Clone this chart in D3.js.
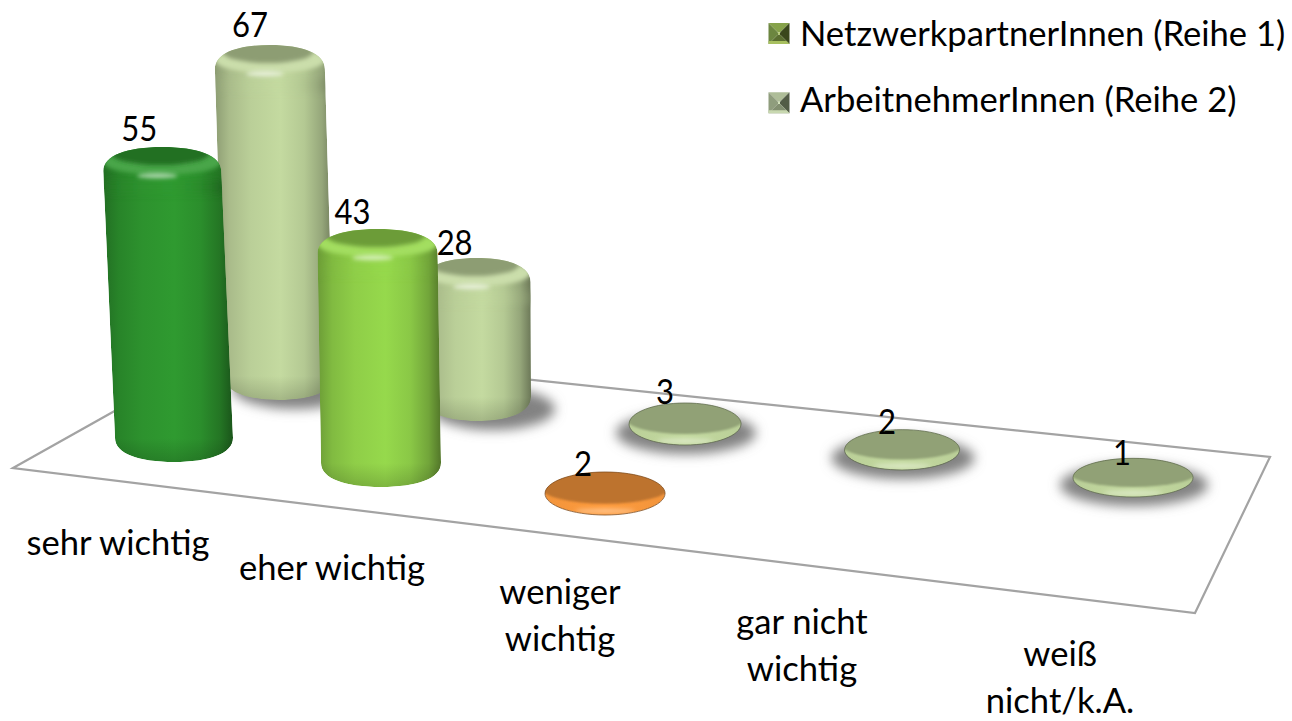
<!DOCTYPE html>
<html><head><meta charset="utf-8">
<script src="https://cdn.jsdelivr.net/npm/d3@7"></script>
<style>html,body{margin:0;padding:0;background:#fff}svg{display:block}text{font-family:Lato,"Noto Sans",sans-serif;fill:#000}</style>
</head><body><svg id="c" width="1292" height="721"></svg>
<script>
const categories = [["sehr wichtig"],["eher wichtig"],["weniger","wichtig"],["gar nicht","wichtig"],["weiß","nicht/k.A."]];
const seriesNames = ["NetzwerkpartnerInnen (Reihe 1)","ArbeitnehmerInnen (Reihe 2)"];
const series1Values = [55,43,2,null,null];
const series2Values = [67,28,3,2,1];
const series1Colors = ["#2f9a30","#96d94c","#ff9c3e"];
const series2Color = "#c4daa0";

const idx=[0,1,2,3,4];
// Perspective scales of the two rows (the plot is a tilted 3-D floor, so spacing is not uniform)
const xCat = {
  front:d3.scaleLinear().domain([0,1,2]).range([174,381,605]),
  back:d3.scaleLinear().domain(idx).range([279,477,685,902,1133])
};
const yBase = {
  front:d3.scaleLinear().domain([0,1,2]).range([462,487,515]),
  back:d3.scaleLinear().domain(idx).range([400,421,445,470,497])
};
const widthCat = {
  front:d3.scaleLinear().domain([0,1,2]).range([118,120,120]),
  back:d3.scaleLinear().domain(idx).range([110,108,112,115,120])
};
const heightScale = {
  front:d3.scaleLinear().domain([0,2,43,55]).range([41,43,258,315]),
  back:d3.scaleLinear().domain([0,3,28,67]).range([37,42,163,355])
};
const labelDx = {
  front:d3.scaleLinear().domain([0,1,2]).range([-23,-25,-22]),
  back:d3.scaleLinear().domain(idx).range([-20,-22,-20,-15,-11])
};
const labelDy = d3.scaleLinear().domain([1,3,28,67]).range([5,11,15,20]);
const xLabel = d3.scaleLinear().domain(idx).range([118,332,560,802,1060]);
const yLabel = d3.scaleLinear().domain(idx).range([555,580,604,634,666]);

const FS=34.6;
const svg=d3.select("#c"), defs=svg.append("defs");
const mix=(c,k)=>d3.interpolateRgb("#000",c)(k);
const lighten=(c,k)=>d3.interpolateRgb(c,"#fff")(k);

const blur=(id,s)=>defs.append("filter").attr("id",id).attr("x","-50%").attr("y","-80%").attr("width","200%").attr("height","260%")
  .append("feGaussianBlur").attr("stdDeviation",s);
blur("b1",1.2); blur("b2",2); blur("b3",3.5); blur("b6",6);

// floor
const floor=[[13,468],[227,348],[1270,457],[1195,613]];
svg.append("path").attr("d",d3.line()(floor)+"Z").attr("fill","#fff").attr("stroke","#a3a3a3").attr("stroke-width",2.2);

const marks=[];
series2Values.forEach((v,i)=>{if(v!=null)marks.push({row:"back",i,v,color:series2Color,shadow:true})});
series1Values.forEach((v,i)=>{if(v!=null)marks.push({row:"front",i,v,color:series1Colors[i],shadow:false})});
marks.forEach((m,k)=>{
  m.k=k;
  m.w=widthCat[m.row](m.i);
  m.cx=xCat[m.row](m.i);
  m.bottom=yBase[m.row](m.i);
  m.total=heightScale[m.row](m.v);
  m.top=m.bottom-m.total;
  m.cxT=m.cx+(m.cx-500)*(m.total-38)*0.00013;
  m.disc=m.total<60;
});
const outline=m=>{
  const r=m.w/2,c=Math.min(24,m.total/2),t=m.top,b=m.bottom,a=m.cxT,d=m.cx;
  const e=m.disc?c*.448:c*.35, q=m.disc?.552:.6;
  return `M${a-r},${t+c}C${a-r},${t+e} ${a-r*q},${t} ${a},${t}C${a+r*q},${t} ${a+r},${t+e} ${a+r},${t+c}`+
   `L${d+r},${b-c}C${d+r},${b-e} ${d+r*q},${b} ${d},${b}C${d-r*q},${b} ${d-r},${b-e} ${d-r},${b-c}Z`;
};
const g=svg.append("g");
g.selectAll("ellipse.sh").data(marks.filter(m=>m.shadow)).join("ellipse").attr("class","sh")
  .attr("cx",m=>m.cx+(m.disc?1:16)).attr("cy",m=>m.bottom-12)
  .attr("rx",m=>m.w/2+(m.disc?14:8)).attr("ry",21)
  .attr("fill","#828282").attr("filter","url(#b6)");

marks.forEach(m=>{
  const grad=defs.append("linearGradient").attr("id","g"+m.k);
  (m.disc?[[0,.95],[.5,1],[1,.95]]:[[0,.72],[.12,.86],[.3,.95],[.55,1],[.75,.92],[.9,.76],[1,.55]])
    .forEach(([o,k])=>grad.append("stop").attr("offset",o).attr("stop-color",mix(m.color,k)));
  const vg=defs.append("linearGradient").attr("id","v"+m.k).attr("x2",0).attr("y2",1);
  const f=1-24/m.total;
  vg.append("stop").attr("offset",f).attr("stop-color","#000").attr("stop-opacity",0);
  vg.append("stop").attr("offset",1).attr("stop-color","#000").attr("stop-opacity",m.disc?0:.16);
  defs.append("clipPath").attr("id","c"+m.k).append("path").attr("d",outline(m));
});
const bar=g.selectAll("g.bar").data(marks).join("g").attr("class","bar").attr("clip-path",m=>`url(#c${m.k})`);
bar.append("path").attr("d",outline).attr("fill",m=>`url(#g${m.k})`);
bar.append("path").attr("d",outline).attr("fill",m=>`url(#v${m.k})`);
// bright rim under the flat lid (tall bars)
bar.filter(m=>!m.disc).append("ellipse").attr("cx",m=>m.cxT).attr("cy",m=>m.top+15)
  .attr("rx",m=>m.w*.5).attr("ry",13)
  .attr("fill",m=>lighten(m.color,.12)).attr("filter","url(#b2)");
// dark flat lid
bar.append("ellipse").attr("cx",m=>m.cxT-(m.disc?0:2))
  .attr("cy",m=>m.disc?m.top+m.total*.34:m.top+7)
  .attr("rx",m=>m.disc?m.w*.54:m.w*.41)
  .attr("ry",m=>m.disc?m.total*.4:11)
  .attr("fill",m=>mix(m.color,m.disc?.74:.72)).attr("filter",m=>m.disc?"url(#b1)":"url(#b2)");
// specular highlight
bar.append("ellipse").attr("cx",m=>m.cxT-(m.disc?0:5))
  .attr("cy",m=>m.disc?m.bottom-4:m.top+29)
  .attr("rx",m=>m.disc?m.w*.25:m.w*.17).attr("ry",m=>m.disc?2:3)
  .attr("fill",m=>lighten(m.color,m.disc?.45:.6)).attr("filter","url(#b2)");
// shade fading from the rim into the body
bar.filter(m=>!m.disc).append("rect").attr("x",m=>m.cxT-m.w/2).attr("width",m=>m.w+4).attr("y",m=>m.top+33).attr("height",14)
  .attr("fill",m=>`url(#g${m.k})`).attr("opacity",.65).attr("filter","url(#b3)");
g.selectAll("path.edge").data(marks.filter(m=>m.disc)).join("path").attr("class","edge").attr("d",outline)
  .attr("fill","none").attr("stroke",m=>mix(m.color,.5)).attr("stroke-width",.8);

// value labels
svg.append("g").selectAll("text").data(marks).join("text")
  .attr("x",m=>m.cxT+labelDx[m.row](m.i)).attr("y",m=>m.top-labelDy(m.v)+12)
  .attr("text-anchor","middle").attr("font-size",FS)
  .attr("textLength",m=>String(m.v).length*18).attr("lengthAdjust","spacingAndGlyphs").text(m=>m.v);

// category labels
svg.append("g").selectAll("text").data(categories).join("text")
  .attr("text-anchor","middle").attr("font-size",FS)
  .attr("transform",(d,i)=>`translate(${xLabel(i)},${yLabel(i)})`)
  .selectAll("tspan").data(d=>d).join("tspan").attr("x",0).attr("dy",(d,i)=>i?47:0).text(d=>d);

// legend
const legendColors=[
 {c:"#b4ca70",t:"#86a24a",l:"#6c8640",r:"#3a471c",b:"#5a6e30",s:"#a8c060"},
 {c:"#d0e0b6",t:"#aebd98",l:"#8f9d7d",r:"#525c46",b:"#828f70",s:"#c8d8b0"}];
const legendY=d3.scalePoint().domain(seriesNames).range([33.5,102.7]);
const legendTextY=d3.scalePoint().domain(seriesNames).range([46,112]);
const lg=svg.append("g").selectAll("g").data(seriesNames).join("g");
const sw=lg.append("g").attr("transform",d=>`translate(779,${legendY(d)})`);
const S=10.5,I=1;
[["t",[[-S,-S],[S,-S],[I,-I],[-I,-I]]],["r",[[S,-S],[S,S],[I,I],[I,-I]]],["b",[[S,S],[-S,S],[-I,I],[I,I]]],["l",[[-S,S],[-S,-S],[-I,-I],[-I,I]]],["c",[[-I,-I],[I,-I],[I,I],[-I,I]]]]
 .forEach(([k,p])=>sw.append("path").attr("d",d3.line()(p)+"Z").attr("fill",(d,i)=>legendColors[i][k]));
sw.append("path").attr("d",d3.line()([[-S,S-3],[S-3,S-3],[S,S],[-S,S]])+"Z").attr("fill",(d,i)=>legendColors[i].s);
lg.append("text").attr("x",800).attr("y",d=>legendTextY(d)).attr("font-size",FS).text(d=>d);
</script></body></html>
